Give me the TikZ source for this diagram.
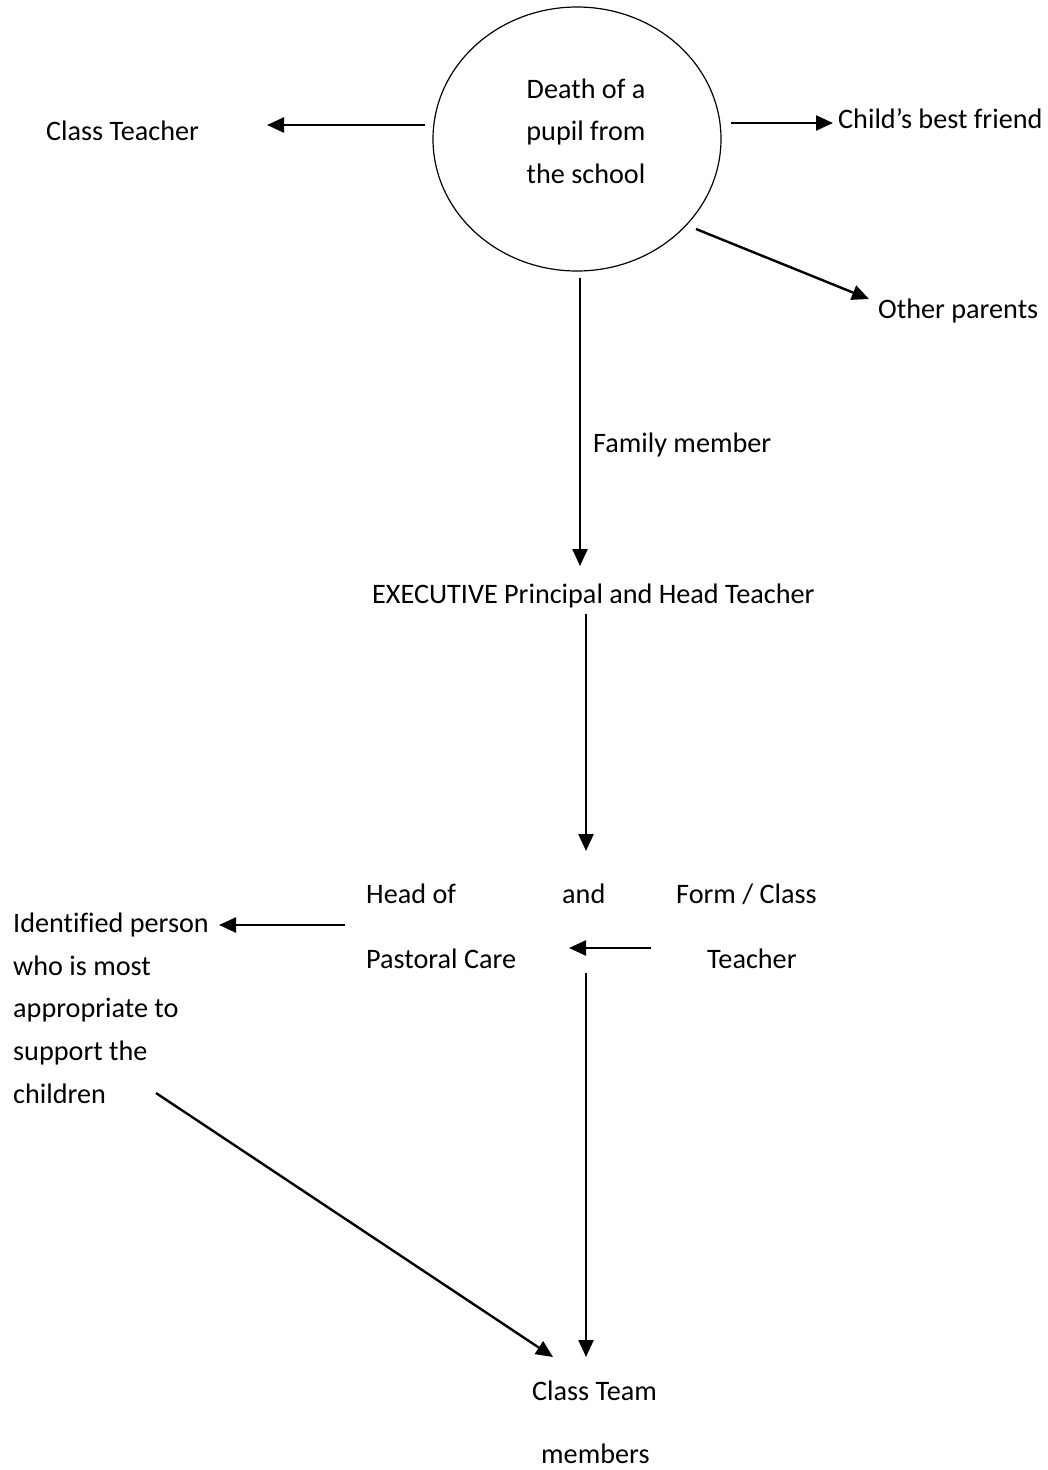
\documentclass[tikz,border=0pt]{standalone}
\usepackage{fontspec}
\setmainfont[Ligatures=NoCommon]{Carlito}
\usetikzlibrary{arrows.meta,shapes.geometric}
\begin{document}
\begin{tikzpicture}[x=1pt,y=-1pt,
  lbl/.style={inner sep=0pt,anchor=base west,font=\fontsize{28.2}{33}\selectfont},
  conn/.style={line width=2.4pt,-{Triangle[length=17pt,width=15pt]}}]
\useasboundingbox (0,0) rectangle (1047,1470);
\fill[white] (0,0) rectangle (1047,1470);
% ellipse
\node[draw,ellipse,line width=1.2pt,minimum width=288pt,minimum height=264pt,inner sep=0pt] (circ) at (577,139) {};
\node[lbl,anchor=base] (d1) at (586,98) {Death of a};
\node[lbl,anchor=base] (d2) at (586,140) {pupil from};
\node[lbl,anchor=base] (d3) at (586,183) {the school};
% top labels
\node[lbl] (ct) at (46,140) {Class Teacher};
\node[lbl] (bf) at (838,128) {Child’s best friend};
\node[lbl] (op) at (878,318) {Other parents};
\node[lbl] (fm) at (593,452) {Family member};
\node[lbl] (ex) at (372,603) {EXECUTIVE Principal and Head Teacher};
% middle labels
\node[lbl] (h1) at (366,903) {Head of};
\node[lbl] (and) at (562,903) {and};
\node[lbl] (fc) at (676,903) {Form / Class};
\node[lbl] (pc) at (366,968) {Pastoral Care};
\node[lbl] (te) at (707,968) {Teacher};
\node[lbl] (i1) at (13,932) {Identified person};
\node[lbl] (i2) at (13,975) {who is most};
\node[lbl] (i3) at (13,1017) {appropriate to};
\node[lbl] (i4) at (13,1060) {support the};
\node[lbl] (i5) at (13,1103) {children};
% bottom labels
\node[lbl] (cm1) at (532,1400) {Class Team};
\node[lbl] (cm2) at (541,1463) {members};
% connector end points
\coordinate (a1s) at (425,125); \coordinate (a1e) at (267,125);
\coordinate (a2s) at (731,123); \coordinate (a2e) at (833,123);
\coordinate (a3s) at (696,229); \coordinate (a3e) at (869,299);
\coordinate (a4s) at (580,278); \coordinate (a4e) at (580,566);
\coordinate (a5s) at (586,614); \coordinate (a5e) at (586,851);
\coordinate (a6s) at (345,925); \coordinate (a6e) at (219,925);
\coordinate (a7s) at (651,948); \coordinate (a7e) at (569,948);
\coordinate (a8s) at (586,973); \coordinate (a8e) at (586,1357);
\coordinate (a9s) at (156,1093); \coordinate (a9e) at (553,1357);
\draw[conn] (a1s) -- (a1e);
\draw[conn] (a2s) -- (a2e);
\draw[conn] (a3s) -- (a3e);
\draw[conn] (a4s) -- (a4e);
\draw[conn] (a5s) -- (a5e);
\draw[conn] (a6s) -- (a6e);
\draw[conn] (a7s) -- (a7e);
\draw[conn] (a8s) -- (a8e);
\draw[conn] (a9s) -- (a9e);
\end{tikzpicture}
\end{document}
